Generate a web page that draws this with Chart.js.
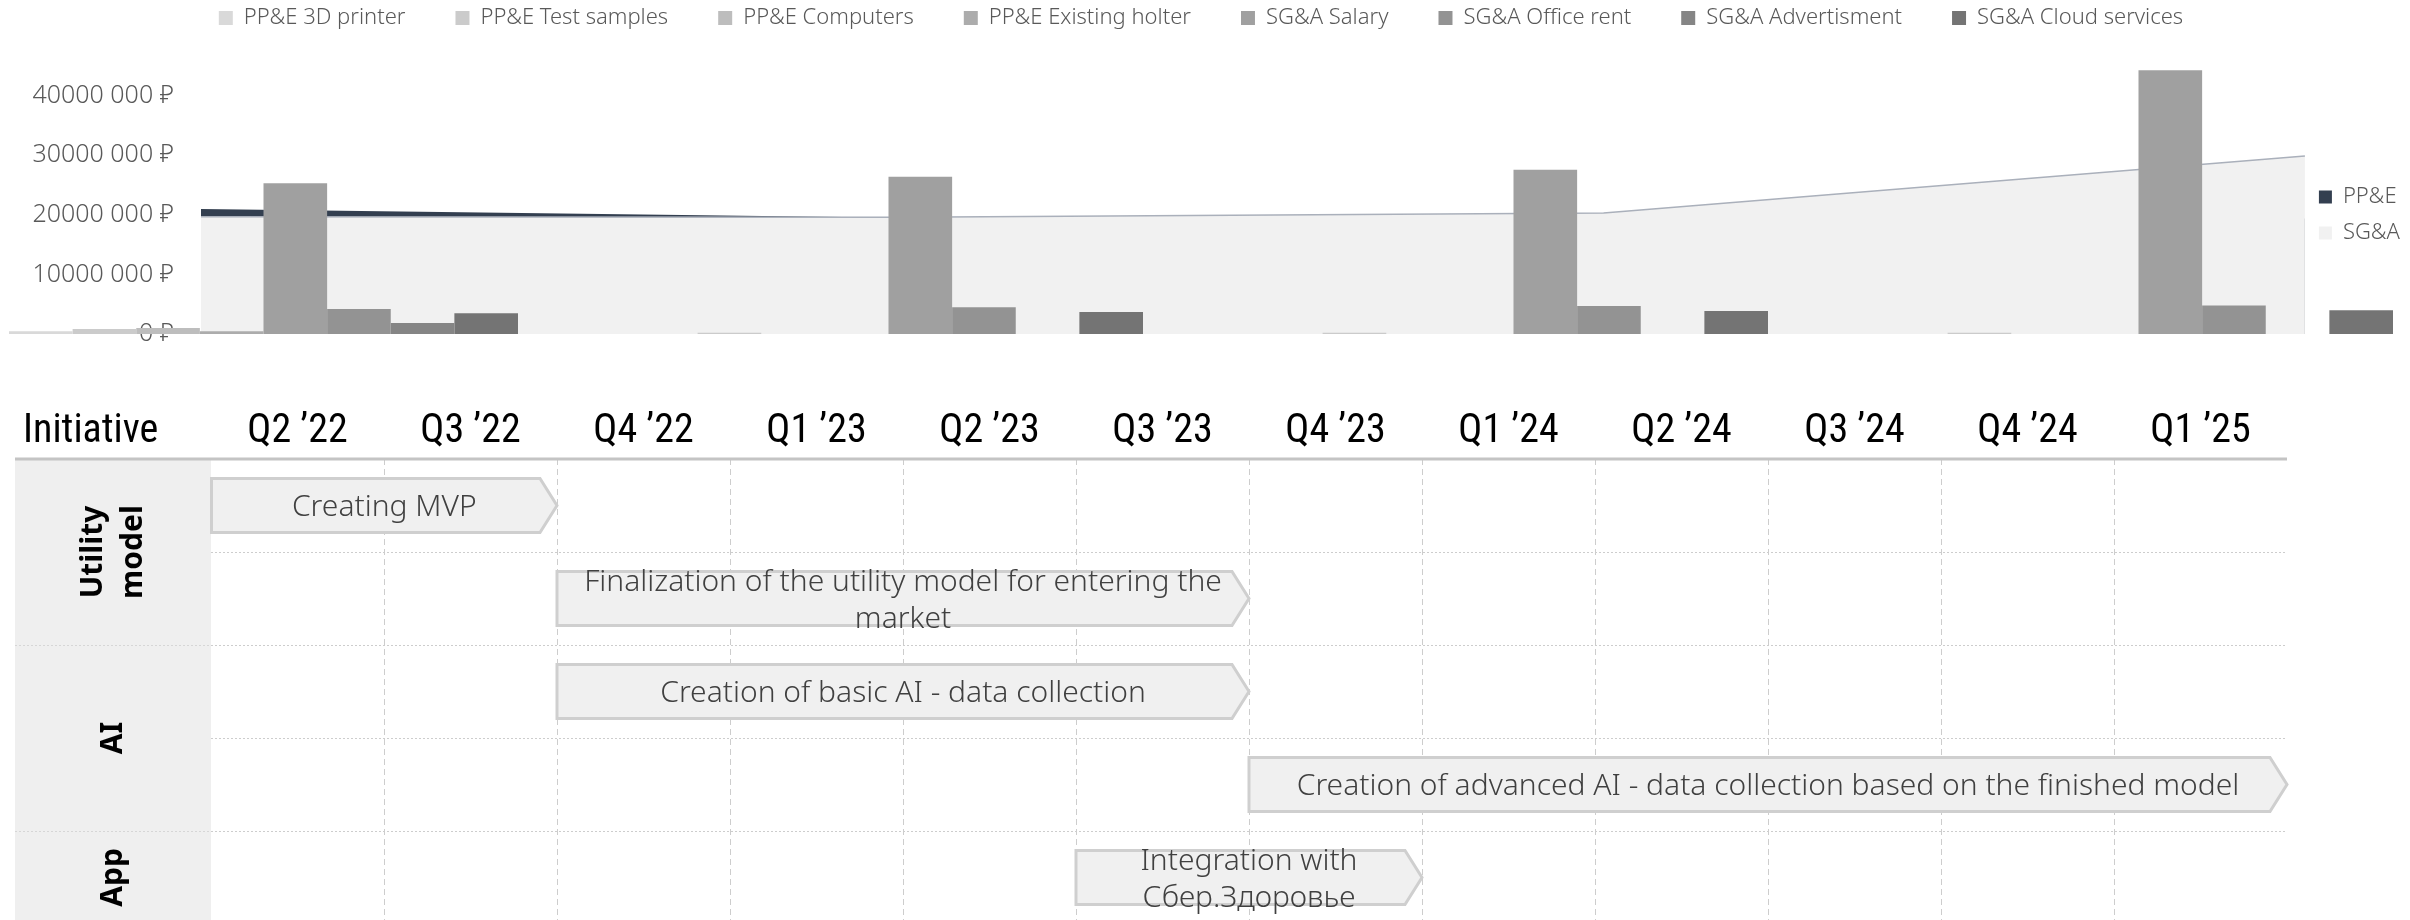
<!DOCTYPE html>
<html>
<head>
<meta charset="utf-8">
<script src="https://cdn.jsdelivr.net/npm/chart.js@4.4.1/dist/chart.umd.min.js"></script>
<style>
  html, body { margin: 0; padding: 0; background: #fff; }
  body { width: 2410px; height: 920px; overflow: hidden; position: relative; }
  .wrap { position: absolute; }
  #areaWrap { left: 0; top: 0; width: 2410px; height: 360px; }
  #barWrap { left: -49px; top: 0; width: 2500px; height: 360px; }
  #ganttWrap { left: 0; top: 380px; width: 2410px; height: 560px; }
</style>
</head>
<body>
<div class="wrap" id="areaWrap"><canvas id="areaChart"></canvas></div>
<div class="wrap" id="barWrap"><canvas id="barChart"></canvas></div>
<div class="wrap" id="ganttWrap"><canvas id="ganttChart"></canvas></div>
<script>
// ---- cost chart data (rubles) ----
const periods = ['2022', '2023', '2024', '2025'];
const costSeries = ['PP&E 3D printer', 'PP&E Test samples', 'PP&E Computers', 'PP&E Existing holter',
  'SG&A Salary', 'SG&A Office rent', 'SG&A Advertisment', 'SG&A Cloud services'];
const costColors = ['#d9d9d9', '#cbcbcb', '#bdbdbd', '#acacac', '#a0a0a0', '#939393', '#858585', '#747474'];

const printer3d   = [450000, 0, 0, 0];
const testSamples = [850000, 200000, 200000, 200000];
const computers   = [1000000, 0, 0, 0];
const holter      = [450000, 0, 0, 0];
const salary      = [25300000, 26400000, 27600000, 44300000];
const officeRent  = [4200000, 4500000, 4700000, 4800000];
const advertising = [1850000, 0, 0, 0];
const cloud       = [3500000, 3700000, 3850000, 4000000];
const costValues = [printer3d, testSamples, computers, holter, salary, officeRent, advertising, cloud];

const ppeTotal = [21000000, 19500000, 19400000, 19400000];
const sgaTotal = [19700000, 19600000, 20300000, 29900000];

const yTicks = [0, 10000000, 20000000, 30000000, 40000000];
const yMax = 45000000;

// ---- roadmap data ----
const quarters = ['Q2 ’22', 'Q3 ’22', 'Q4 ’22', 'Q1 ’23', 'Q2 ’23', 'Q3 ’23',
  'Q4 ’23', 'Q1 ’24', 'Q2 ’24', 'Q3 ’24', 'Q4 ’24', 'Q1 ’25'];
const taskNames = [
  ['Creating MVP'],
  ['Finalization of the utility model for entering the', 'market'],
  ['Creation of basic AI - data collection'],
  ['Creation of advanced AI - data collection based on the finished model'],
  ['Integration with', 'Сбер.Здоровье']
];
const taskStart = [0, 2, 2, 6, 5];
const taskEnd   = [2, 6, 6, 12, 7];
const initiatives = [['Utility', 'model'], ['AI'], ['App']];
const initiativeRows = [2, 2, 1];

const FONT = '"Noto Sans", "Open Sans", sans-serif';
const HEAD_FONT = '"Roboto Condensed", "Noto Sans", sans-serif';
const GREY_TEXT = '#595959';

Chart.defaults.animation = false;
Chart.defaults.font.family = FONT;

const rubles = v => v === 0 ? '0 ₽' : (v / 1000) + ' 000 ₽';

// ---- area layer (with y axis and right legend) ----
const areaChart = new Chart(document.getElementById('areaChart'), {
  type: 'line',
  data: {
    labels: periods,
    datasets: [
      { label: 'PP&E', data: ppeTotal, fill: 'origin', backgroundColor: '#333f50', borderWidth: 0,
        pointRadius: 0, tension: 0, order: 2 },
      { label: 'SG&A', data: sgaTotal, fill: 'origin', backgroundColor: '#f1f1f1', borderColor: '#aab0bb',
        borderWidth: 1.5, pointRadius: 0, tension: 0, order: 1 }
    ]
  },
  options: {
    responsive: true,
    maintainAspectRatio: false,
    layout: { padding: { top: 66, bottom: 26, left: 0, right: 0 } },
    plugins: {
      tooltip: { enabled: false },
      legend: {
        position: 'right',
        // empty title only pushes the two items down a little
        title: { display: true, text: ' ', font: { size: 10 }, padding: { top: 9, bottom: 9 } },
        labels: {
          boxWidth: 13, boxHeight: 13, padding: 14, color: GREY_TEXT,
          font: { size: 22, weight: 300 },
          sort: (a, b) => a.datasetIndex - b.datasetIndex,
          generateLabels: chart => Chart.defaults.plugins.legend.labels.generateLabels(chart)
            .map(item => Object.assign(item, { lineWidth: 0 }))
        }
      }
    },
    scales: {
      x: { display: false, offset: false },
      y: {
        min: 0, max: yMax,
        afterFit: s => { s.width = 201; s.paddingTop = 0; s.paddingBottom = 0; },
        afterBuildTicks: s => { s.ticks = yTicks.map(v => ({ value: v })); },
        grid: { display: false, drawTicks: false },
        border: { display: false },
        ticks: { padding: 27, color: GREY_TEXT, font: { size: 25, weight: 300 }, callback: rubles }
      }
    }
  }
});

// ---- bar layer (top legend) ----
const legendGap = {
  id: 'legendGap',
  beforeInit(chart) {
    const fit = chart.legend.fit;
    chart.legend.fit = function () {
      fit.call(this);
      this.height += 27;
    };
  }
};

const barChart = new Chart(document.getElementById('barChart'), {
  type: 'bar',
  data: {
    labels: periods,
    datasets: costSeries.map((name, i) => ({
      label: name, data: costValues[i], backgroundColor: costColors[i], borderWidth: 0
    }))
  },
  options: {
    responsive: true,
    maintainAspectRatio: false,
    categoryPercentage: 0.8144,
    barPercentage: 1,
    layout: { padding: { top: -43, bottom: 26, left: 0, right: 0 } },
    plugins: {
      tooltip: { enabled: false },
      legend: {
        position: 'top',
        labels: { boxWidth: 14, boxHeight: 14, padding: 50, color: GREY_TEXT, font: { size: 22, weight: 300 } }
      }
    },
    scales: {
      x: { display: false },
      y: { display: false, min: 0, max: yMax }
    }
  },
  plugins: [legendGap]
});

// ---- roadmap ----
function rowEdge(scale, i) {
  const band = scale.getPixelForValue(1) - scale.getPixelForValue(0);
  return scale.getPixelForValue(i) - band / 2;
}

const roadmapDecor = {
  id: 'roadmapDecor',
  beforeDatasetsDraw(chart) {
    const { ctx, chartArea: a, scales: { y } } = chart;
    const colLeft = 15;
    ctx.save();
    ctx.fillStyle = '#efefef';
    ctx.fillRect(colLeft, a.top, a.left - colLeft, a.bottom - a.top);

    let row = 0;
    initiatives.forEach((lines, g) => {
      const top = rowEdge(y, row);
      const bottom = rowEdge(y, row + initiativeRows[g]);
      const cx = (colLeft + a.left) / 2;
      const cy = (top + bottom) / 2;
      ctx.save();
      ctx.translate(cx, cy);
      ctx.rotate(-Math.PI / 2);
      ctx.fillStyle = '#000';
      ctx.font = `bold 30px ${FONT}`;
      ctx.textAlign = 'center';
      ctx.textBaseline = 'middle';
      const lh = 40;
      lines.forEach((t, k) => ctx.fillText(t, 0, (k - (lines.length - 1) / 2) * lh));
      ctx.restore();
      row += initiativeRows[g];
      if (g < initiatives.length - 1) {
        ctx.strokeStyle = '#d6d6d6';
        ctx.lineWidth = 1;
        ctx.setLineDash([2, 2]);
        ctx.beginPath();
        ctx.moveTo(colLeft, Math.round(bottom) + 0.5);
        ctx.lineTo(a.left, Math.round(bottom) + 0.5);
        ctx.stroke();
        ctx.setLineDash([]);
      }
    });

    // header
    ctx.fillStyle = '#000';
    ctx.font = `40px ${HEAD_FONT}`;
    ctx.textAlign = 'left';
    ctx.textBaseline = 'middle';
    ctx.fillText('Initiative', 23, a.top - 3 - 24);

    ctx.strokeStyle = '#c4c4c4';
    ctx.lineWidth = 3;
    ctx.beginPath();
    ctx.moveTo(colLeft, a.top);
    ctx.lineTo(a.right, a.top);
    ctx.stroke();
    ctx.restore();
  },
  afterDatasetsDraw(chart) {
    const { ctx } = chart;
    const tip = 17;
    ctx.save();
    chart.getDatasetMeta(0).data.forEach((bar, i) => {
      const { x, base, y, height } = bar.getProps(['x', 'base', 'y', 'height'], true);
      const l = Math.min(x, base), r = Math.max(x, base);
      const t = y - height / 2, b = y + height / 2;
      ctx.beginPath();
      ctx.moveTo(l, t);
      ctx.lineTo(r - tip, t);
      ctx.lineTo(r, y);
      ctx.lineTo(r - tip, b);
      ctx.lineTo(l, b);
      ctx.closePath();
      ctx.fillStyle = '#f0f0f0';
      ctx.fill();
      ctx.strokeStyle = '#cfcfcf';
      ctx.lineWidth = 3;
      ctx.stroke();

      const lines = taskNames[i];
      const lh = 37;
      ctx.fillStyle = '#404040';
      ctx.font = `300 30px ${FONT}`;
      ctx.textAlign = 'center';
      ctx.textBaseline = 'middle';
      lines.forEach((txt, k) => ctx.fillText(txt, (l + r) / 2, y + 2 + (k - (lines.length - 1) / 2) * lh));
    });
    ctx.restore();
  }
};

const ganttChart = new Chart(document.getElementById('ganttChart'), {
  type: 'bar',
  data: {
    labels: taskNames.map(t => t.join(' ')),
    datasets: [{
      data: taskStart.map((s, i) => [s, taskEnd[i]]),
      backgroundColor: 'rgba(0,0,0,0)',
      borderWidth: 0,
      barPercentage: 0.58,
      categoryPercentage: 1
    }]
  },
  options: {
    indexAxis: 'y',
    responsive: true,
    maintainAspectRatio: false,
    layout: { padding: { left: 211, right: 123, top: 0, bottom: 16 } },
    plugins: { legend: { display: false }, tooltip: { enabled: false } },
    scales: {
      x: {
        type: 'linear', min: 0, max: 12, position: 'bottom',
        afterFit: s => { s.height = 0; },
        ticks: { display: false, stepSize: 1 },
        grid: {
          drawTicks: false, lineWidth: 1,
          color: c => (c.tick && (c.tick.value === 0 || c.tick.value === 12)) ? 'rgba(0,0,0,0)' : '#cdcdcd'
        },
        border: { display: false, dash: [6, 4] }
      },
      xTop: {
        type: 'category', labels: quarters, position: 'top', offset: true,
        afterFit: s => { s.height = 79; },
        grid: { display: false, drawTicks: false },
        border: { display: false },
        ticks: { padding: 3, color: '#000', maxRotation: 0, autoSkip: false,
          font: { family: HEAD_FONT, size: 40 } }
      },
      y: {
        type: 'category',
        afterFit: s => { s.width = 0; },
        ticks: { display: false },
        grid: { drawTicks: false, color: '#cdcdcd', lineWidth: 1 },
        border: { display: false, dash: [2, 2] }
      }
    }
  },
  plugins: [roadmapDecor]
});
</script>
</body>
</html>
